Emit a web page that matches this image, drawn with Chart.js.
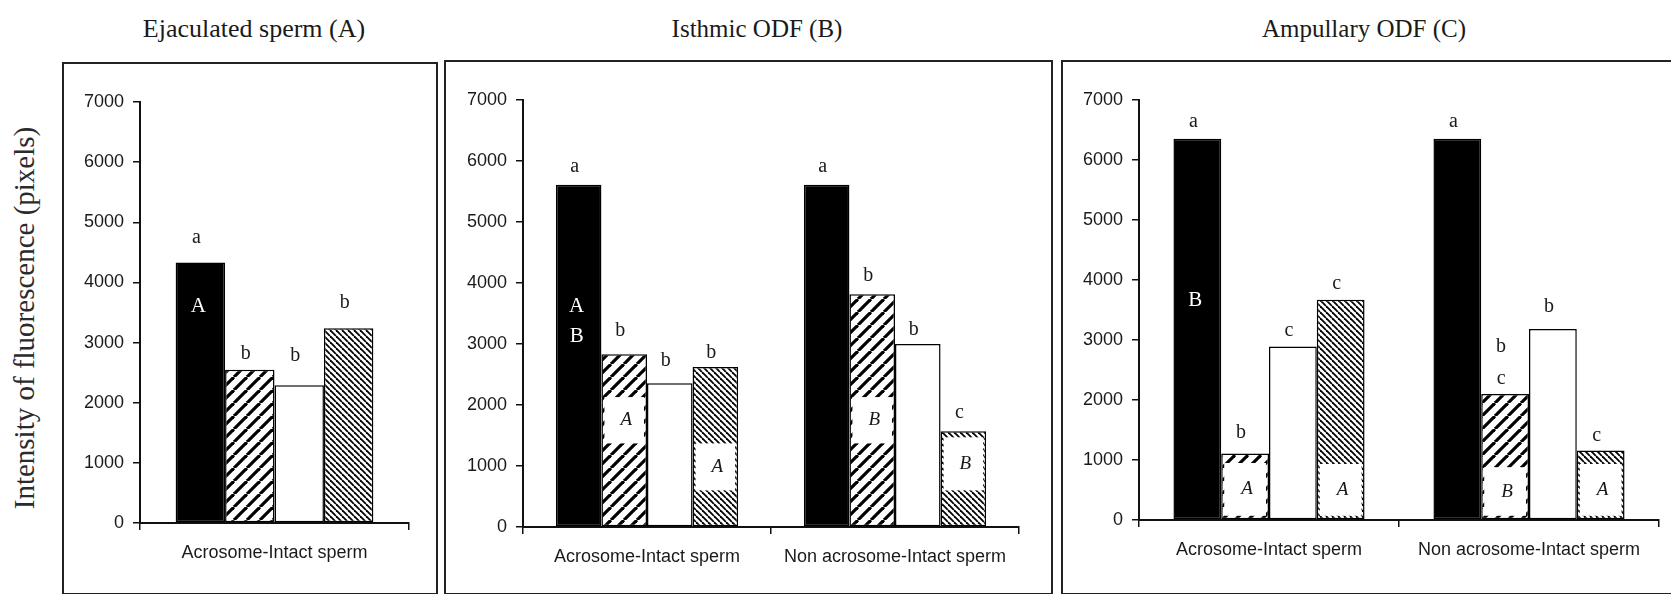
<!DOCTYPE html>
<html>
<head>
<meta charset="utf-8">
<script src="https://cdn.jsdelivr.net/npm/chart.js@4.4.1/dist/chart.umd.min.js"></script>
<style>
  html, body { margin: 0; padding: 0; background: #fff; }
  #page { position: relative; width: 1671px; height: 594px; overflow: hidden; background: #fff; }
  .frame { position: absolute; box-sizing: border-box; border: 2px solid #222; }
  .ttl { position: absolute; top: 14px; line-height: 30px; font-family: 'Liberation Serif', 'Times New Roman', serif;
         font-size: 26px; color: #1a1a1a; white-space: nowrap; transform: translateX(-50%); }
  #ylab { position: absolute; left: 24px; top: 318px; transform: translate(-50%, -50%) rotate(-90deg);
          font-family: 'Liberation Serif', 'Times New Roman', serif; font-size: 29px; color: #2b2b2b; white-space: nowrap; }
  canvas { position: absolute; left: 0; top: 0; }
</style>
</head>
<body>
<div id="page">
  <div class="frame" style="left:62px;top:62px;width:376px;height:533px"></div>
  <div class="frame" style="left:444px;top:60px;width:609px;height:535px"></div>
  <div class="frame" style="left:1061px;top:60px;width:640px;height:535px"></div>
  <div class="ttl" style="left:254px">Ejaculated sperm (A)</div>
  <div class="ttl" style="left:757px;font-size:25px">Isthmic ODF (B)</div>
  <div class="ttl" style="left:1364px;font-size:25px">Ampullary ODF (C)</div>
  <div id="ylab">Intensity of fluorescence (pixels)</div>
  <canvas id="panelA"></canvas>
  <canvas id="panelB"></canvas>
  <canvas id="panelC"></canvas>
</div>
<script>
// ---- data ----
const categoriesA = ['Acrosome-Intact sperm'];
const categoriesBC = ['Acrosome-Intact sperm', 'Non acrosome-Intact sperm'];
const yTicks = [0, 1000, 2000, 3000, 4000, 5000, 6000, 7000];
const seriesNames = ['Series 1', 'Series 2', 'Series 3', 'Series 4'];

// Ejaculated sperm (A): one value per series
const solidA = [4330];
const wideHatchA = [2550];
const openA = [2290];
const fineHatchA = [3240];

// Isthmic ODF (B)
const solidB = [5610, 5610];
const wideHatchB = [2830, 3815];
const openB = [2355, 3000];
const fineHatchB = [2625, 1570];

// Ampullary ODF (C)
const solidC = [6355, 6355];
const wideHatchC = [1110, 2100];
const openC = [2890, 3185];
const fineHatchC = [3670, 1158];

// significance letters above bars, [series][category]
const lettersA = [['a'], ['b'], ['b'], ['b']];
const lettersB = [['a', 'a'], ['b', 'b'], ['b', 'b'], ['b', 'c']];
const lettersC = [['a', 'a'], ['b', 'b\nc'], ['c', 'b'], ['c', 'c']];

// group letters written inside the solid bars, per category
const solidTagsA = ['A'];
const solidTagsB = ['A\nB', ''];
const solidTagsC = ['B', ''];

// italic letters in white boxes inside hatched bars, per category
const wideTagsB = ['A', 'B'];
const fineTagsB = ['A', 'B'];
const wideTagsC = ['A', 'B'];
const fineTagsC = ['A', 'A'];

// ---- placement of the annotations ----
// vertical gap (px) between bar top and the letter above it
const liftA = [[25], [16], [30], [25]];
const liftB = [[18, 18], [24, 19], [23, 14], [14, 18]];
const liftC = [[17, 17], [21, 15], [16, 22], [16, 15]];
// value where the solid-bar tag is centred
const solidTagAt = { A: 3600, B: 3610, C: 3655 };
// value span [low, high] of the white tag boxes, per category
const wideSpanB = [[1370, 2130], [1370, 2130]];
const fineSpanB = [[600, 1370], [600, 1470]];
const wideSpanC = [[70, 950], [70, 880]];
const fineSpanC = [[70, 935], [70, 935]];

// ---- drawing ----
const W = 1671, H = 594;
const YW = 80, XH = 50;
const SANS = "'Liberation Sans', Arial, sans-serif";
const SERIF = "'Liberation Serif', 'Times New Roman', serif";
const INK = '#1a1a1a';

function hatch(period, thick, rising) {
  const c = document.createElement('canvas');
  c.width = period; c.height = period;
  const g = c.getContext('2d');
  g.fillStyle = '#fff';
  g.fillRect(0, 0, period, period);
  g.strokeStyle = '#000';
  g.lineWidth = thick;
  for (const o of [-period, 0, period]) {
    g.beginPath();
    if (rising) { g.moveTo(o, period); g.lineTo(o + period, 0); }
    else { g.moveTo(o, 0); g.lineTo(o + period, period); }
    g.stroke();
  }
  return g.createPattern(c, 'repeat');
}

const fills = ['#000', hatch(13, 3.2, true), '#fff', hatch(6, 1.8, false)];

function markPlugin(p) {
  return {
    id: 'marks',
    afterDatasetsDraw(chart) {
      const ctx = chart.ctx;
      const ys = chart.scales.y;
      ctx.save();
      ctx.textAlign = 'center';
      ctx.textBaseline = 'middle';

      // white tag boxes with italic letters inside hatched bars
      const boxes = [[1, p.wideTags, p.wideSpan], [3, p.fineTags, p.fineSpan]];
      boxes.forEach(([s, tags, spans]) => {
        if (!tags) return;
        const metaData = chart.getDatasetMeta(s).data;
        tags.forEach((t, c) => {
          const bar = metaData[c];
          const top = ys.getPixelForValue(spans[c][1]);
          const bot = ys.getPixelForValue(spans[c][0]);
          ctx.fillStyle = '#fff';
          ctx.fillRect(bar.x - bar.width / 2 + 3, top, bar.width - 6, bot - top);
          ctx.fillStyle = INK;
          ctx.font = 'italic 19px ' + SERIF;
          ctx.fillText(t, bar.x + 2, (top + bot) / 2);
        });
      });

      // tags inside the solid bars
      const solid = chart.getDatasetMeta(0).data;
      p.solidTags.forEach((t, c) => {
        if (!t) return;
        const lines = t.split('\n');
        const y0 = ys.getPixelForValue(p.solidTagAt);
        ctx.fillStyle = '#fff';
        ctx.font = '21px ' + SERIF;
        lines.forEach((ln, i) => ctx.fillText(ln, solid[c].x - 2, y0 + i * 30));
      });

      // significance letters above bars
      ctx.fillStyle = INK;
      ctx.font = '20px ' + SERIF;
      p.letters.forEach((row, s) => {
        const metaData = chart.getDatasetMeta(s).data;
        row.forEach((t, c) => {
          const bar = metaData[c];
          const lines = t.split('\n');
          const yb = bar.y - p.lift[s][c];
          lines.reverse().forEach((ln, i) => ctx.fillText(ln, bar.x - 4, yb - i * 32));
        });
      });
      ctx.restore();
    }
  };
}

function axisStyle() {
  return {
    grid: { display: true, drawOnChartArea: false, drawTicks: true, tickLength: 7, color: '#111', lineWidth: 1.5 },
    border: { display: true, color: '#111', width: 2 }
  };
}

function makePanel(id, p) {
  const canvas = document.getElementById(id);
  canvas.width = W; canvas.height = H;
  canvas.style.width = W + 'px'; canvas.style.height = H + 'px';
  const datasets = p.values.map((vals, i) => ({
    label: seriesNames[i],
    data: vals,
    backgroundColor: fills[i],
    borderColor: '#000',
    borderWidth: 1.5,
    borderSkipped: false,
    categoryPercentage: 0.735,
    barPercentage: 1
  }));
  const xs = axisStyle();
  const yax = axisStyle();
  new Chart(canvas, {
    type: 'bar',
    data: { labels: p.categories, datasets },
    options: {
      responsive: false,
      animation: false,
      devicePixelRatio: 1,
      layout: { padding: { left: p.axisX - YW, right: W - p.axisEnd, top: p.top, bottom: H - p.bottom - XH } },
      plugins: { legend: { display: false }, tooltip: { enabled: false }, title: { display: false } },
      scales: {
        x: {
          grid: Object.assign({ offset: true }, xs.grid),
          border: xs.border,
          ticks: { font: { family: SANS, size: 18 }, color: INK, padding: 12, maxRotation: 0, autoSkip: false },
          afterFit: s => { s.height = XH; }
        },
        y: {
          min: 0, max: 7000,
          afterBuildTicks: s => { s.ticks = yTicks.map(v => ({ value: v })); },
          grid: yax.grid,
          border: yax.border,
          ticks: { font: { family: SANS, size: 18 }, color: INK, padding: 9, callback: v => String(v) },
          afterFit: s => { s.width = YW; }
        }
      }
    },
    plugins: [markPlugin(p)]
  });
}

makePanel('panelA', {
  categories: categoriesA,
  values: [solidA, wideHatchA, openA, fineHatchA],
  letters: lettersA, lift: liftA,
  solidTags: solidTagsA, solidTagAt: solidTagAt.A,
  axisX: 140, axisEnd: 409, top: 102, bottom: 523
});
makePanel('panelB', {
  categories: categoriesBC,
  values: [solidB, wideHatchB, openB, fineHatchB],
  letters: lettersB, lift: liftB,
  solidTags: solidTagsB, solidTagAt: solidTagAt.B,
  wideTags: wideTagsB, wideSpan: wideSpanB, fineTags: fineTagsB, fineSpan: fineSpanB,
  axisX: 523, axisEnd: 1019, top: 100, bottom: 527
});
makePanel('panelC', {
  categories: categoriesBC,
  values: [solidC, wideHatchC, openC, fineHatchC],
  letters: lettersC, lift: liftC,
  solidTags: solidTagsC, solidTagAt: solidTagAt.C,
  wideTags: wideTagsC, wideSpan: wideSpanC, fineTags: fineTagsC, fineSpan: fineSpanC,
  axisX: 1139, axisEnd: 1659, top: 100, bottom: 520
});
</script>
</body>
</html>
